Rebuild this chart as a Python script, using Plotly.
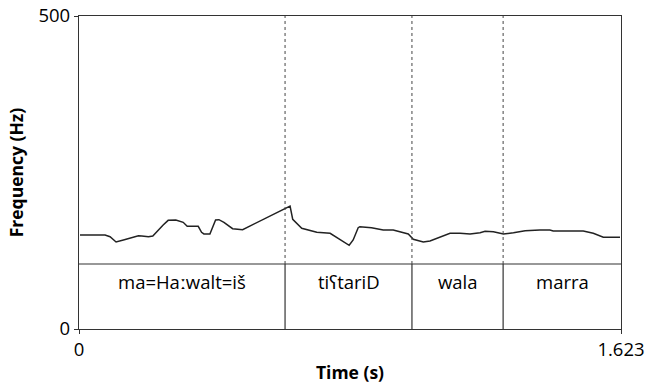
import plotly.graph_objects as go

# Pitch track (time s, frequency Hz)
time_s = [0.003, 0.078, 0.093, 0.111, 0.133, 0.178, 0.188, 0.208, 0.221, 0.237,
          0.252, 0.267, 0.290, 0.312, 0.324, 0.357, 0.367, 0.374, 0.392, 0.409,
          0.419, 0.434, 0.460, 0.490, 0.517, 0.627, 0.632, 0.640, 0.667, 0.712,
          0.752, 0.809, 0.821, 0.836, 0.841, 0.876, 0.911, 0.941, 0.971, 0.986,
          1.001, 1.031, 1.051, 1.081, 1.111, 1.141, 1.171, 1.201, 1.216, 1.241,
          1.271, 1.301, 1.336, 1.380, 1.410, 1.420, 1.510, 1.540, 1.570, 1.620]
freq_hz = [150.2, 150.2, 147.4, 139.0, 142.2, 149.0, 148.6, 147.4, 148.6, 158.1,
           166.1, 173.6, 174.1, 170.4, 164.1, 164.1, 154.5, 151.8, 151.8, 174.1,
           174.6, 170.4, 160.2, 158.6, 165.7, 195.4, 196.5, 175.2, 160.9, 154.5,
           152.9, 133.7, 142.2, 161.8, 163.4, 161.8, 158.1, 158.1, 153.8, 151.8,
           143.3, 139.0, 140.6, 147.4, 152.9, 152.9, 151.8, 153.8, 156.1, 155.4,
           151.8, 153.8, 157.0, 158.1, 158.1, 156.5, 156.5, 152.9, 146.5, 146.5]

# Word tier
boundaries = [0.0, 0.617, 0.997, 1.270, 1.623]
words = ["ma=Haːwalt=iš", "tiʕtariD", "wala", "marra"]

t_max = 1.623
f_max = 500
x_ticks = [0, t_max]
x_tick_labels = ["0", "1.623"]
y_ticks = [0, f_max]
y_tick_labels = ["0", "500"]

tier_top = 0.2077  # fraction of plot height
FONT = "Open Sans, Noto Sans, DejaVu Sans"

fig = go.Figure()
fig.add_trace(go.Scatter(x=time_s, y=freq_hz, mode="lines",
                         line=dict(color="#222222", width=1.5),
                         hoverinfo="skip", showlegend=False))

shapes = []
shapes.append(dict(type="line", xref="paper", yref="paper", x0=0, x1=1,
                   y0=tier_top, y1=tier_top, line=dict(color="#333333", width=1.2)))
for b in boundaries[1:-1]:
    shapes.append(dict(type="line", xref="x", yref="paper", x0=b, x1=b,
                       y0=0, y1=tier_top, line=dict(color="#333333", width=1.2)))
    shapes.append(dict(type="line", xref="x", yref="paper", x0=b, x1=b,
                       y0=tier_top, y1=1, line=dict(color="#444444", width=1, dash="dot")))

annotations = []
for i, w in enumerate(words):
    annotations.append(dict(x=(boundaries[i] + boundaries[i + 1]) / 2, y=tier_top / 2,
                            xref="x", yref="paper", text=w, showarrow=False,
                            font=dict(family=FONT, size=18.5, color="#000000")))

fig.update_layout(
    width=645, height=384,
    margin=dict(l=79, r=24, t=16, b=55),
    paper_bgcolor="white", plot_bgcolor="white",
    shapes=shapes, annotations=annotations,
    font=dict(family=FONT, size=18, color="#000000"),
    xaxis=dict(range=[0, t_max], tickvals=x_ticks, ticktext=x_tick_labels,
               showgrid=False, zeroline=False, showline=True, mirror=True,
               linecolor="#333333", linewidth=1.2, ticks="outside", ticklen=4,
               tickcolor="#333333", tickfont=dict(size=18.5), automargin=False,
               title=dict(text="<b>Time (s)</b>", font=dict(size=17.5), standoff=9)),
    yaxis=dict(range=[0, f_max], tickvals=y_ticks, ticktext=y_tick_labels,
               showgrid=False, zeroline=False, showline=True, mirror=True,
               linecolor="#333333", linewidth=1.2, ticks="outside", ticklen=4,
               tickcolor="#333333", tickfont=dict(size=18.5), automargin=False,
               title=dict(text="<b>Frequency (Hz)</b>", font=dict(size=17.5), standoff=10)),
)

fig.write_html("out.html")
